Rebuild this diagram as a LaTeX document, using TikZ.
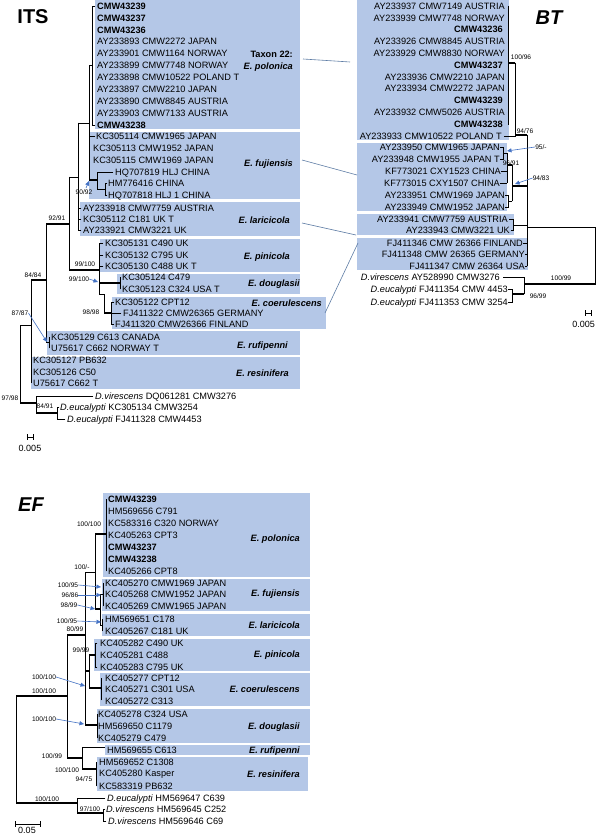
\documentclass[tikz,border=0pt]{standalone}
\usepackage{fontspec}
\setmainfont{Liberation Sans}
\usetikzlibrary{arrows.meta}
\definecolor{boxblue}{RGB}{180,199,231}
\definecolor{arrblue}{RGB}{68,114,196}
\definecolor{linkc}{RGB}{95,125,165}
\tikzset{
 tip/.style={inner sep=0pt, anchor=west, font=\fontsize{9.2}{11}\selectfont, text height=6.6pt, text depth=0pt},
 tipr/.style={tip, anchor=east},
 tb/.style={font=\bfseries\fontsize{9.2}{11}\selectfont},
 taxon/.style={inner sep=0pt, anchor=east, font=\bfseries\itshape\fontsize{9.2}{11}\selectfont, text height=6.6pt, text depth=0pt},
 supp/.style={inner sep=0pt, font=\fontsize{6.6}{8}\selectfont},
 blbox/.style={fill=boxblue, draw=none},
 br/.style={line width=0.7pt, line cap=rect},
 thk/.style={line width=2.8pt},
 arr/.style={draw=arrblue, line width=0.6pt, -{Triangle[length=4.5pt,width=4pt]}},
 link/.style={draw=linkc, line width=0.6pt},
 ttl/.style={inner sep=0pt, font=\bfseries\fontsize{20}{22}\selectfont},
 scl/.style={inner sep=0pt, font=\fontsize{9}{10}\selectfont},
}
\begin{document}
\begin{tikzpicture}[x=1pt,y=-1pt]
\useasboundingbox (0,0) rectangle (596,834);
\fill[white] (0,0) rectangle (596,834);

% ================= ITS =================
\fill[blbox] (95,0) rectangle (300,129);
\fill[blbox] (89,132) rectangle (300,199);
\fill[blbox] (80,202) rectangle (300,236);
\fill[blbox] (100,239) rectangle (300,272);
\fill[blbox] (117,274) rectangle (300,294);
\fill[blbox] (112,297) rectangle (326,329);
\fill[blbox] (47,331) rectangle (300,355);
\fill[blbox] (31,357) rectangle (300,389);

\node[ttl] (itsT) at (33,17) {ITS};

\node[tip,tb] (i1) at (97,6) {CMW43239};
\node[tip,tb] (i2) at (97,17.9) {CMW43237};
\node[tip,tb] (i3) at (97,29.8) {CMW43236};
\node[tip] (i4) at (97,41.7) {AY233893 CMW2272 JAPAN};
\node[tip] (i5) at (97,53.6) {AY233901 CMW1164 NORWAY};
\node[tip] (i6) at (97,65.5) {AY233899 CMW7748 NORWAY};
\node[tip] (i7) at (97,77.4) {AY233898 CMW10522 POLAND T};
\node[tip] (i8) at (97,89.3) {AY233897 CMW2210 JAPAN};
\node[tip] (i9) at (97,101.2) {AY233890 CMW8845 AUSTRIA};
\node[tip] (i10) at (97,113.1) {AY233903 CMW7133 AUSTRIA};
\node[tip,tb] (i11) at (97,125) {CMW43238};
\node[tip] (i12) at (96,136) {KC305114 CMW1965 JAPAN};
\node[tip] (i13) at (93,148) {KC305113 CMW1952 JAPAN};
\node[tip] (i14) at (93,160) {KC305115 CMW1969 JAPAN};
\node[tip] (i15) at (115,172) {HQ707819 HLJ CHINA};
\node[tip] (i16) at (108,183) {HM776416 CHINA};
\node[tip] (i17) at (108,195) {HQ707818 HLJ 1 CHINA};
\node[tip] (i18) at (83,208) {AY233918 CMW7759 AUSTRIA};
\node[tip] (i19) at (83,219) {KC305112 C181 UK T};
\node[tip] (i20) at (83,230) {AY233921 CMW3221 UK};
\node[tip] (i21) at (105,243) {KC305131 C490 UK};
\node[tip] (i22) at (105,255) {KC305132 C795 UK};
\node[tip] (i23) at (105,266) {KC305130 C488 UK T};
\node[tip] (i24) at (122,277) {KC305124 C479};
\node[tip] (i25) at (122,289) {KC305123 C324 USA T};
\node[tip] (i26) at (115,302) {KC305122 CPT12};
\node[tip] (i27) at (123,313) {FJ411322 CMW26365 GERMANY};
\node[tip] (i28) at (115,324) {FJ411320 CMW26366 FINLAND};
\node[tip] (i29) at (51,337) {KC305129 C613 CANADA};
\node[tip] (i30) at (51,348) {U75617 C662 NORWAY T};
\node[tip] (i31) at (33,360) {KC305127 PB632};
\node[tip] (i32) at (33,372) {KC305126 C50};
\node[tip] (i33) at (33,383) {U75617 C662 T};
\node[tip] (i34) at (95,396) {\textit{D.virescens} DQ061281 CMW3276};
\node[tip] (i35) at (60,407) {\textit{D.eucalypti} KC305134 CMW3254};
\node[tip] (i36) at (67,419) {\textit{D.eucalypti} FJ411328 CMW4453};

\node[inner sep=0pt, anchor=east, font=\bfseries\fontsize{9.2}{11}\selectfont, text height=6.6pt, text depth=0pt] (iL0) at (293,54) {Taxon 22:};
\node[taxon] (iL1) at (293,66) {E. polonica};
\node[taxon] (iL2) at (293,163) {E. fujiensis};
\node[taxon] (iL3) at (290,220) {E. laricicola};
\node[taxon] (iL4) at (290,256) {E. pinicola};
\node[taxon] (iL5) at (300,283) {E. douglasii};
\node[taxon] (iL6) at (322,303) {E. coerulescens};
\node[taxon] (iL7) at (288,345) {E. rufipenni};
\node[taxon] (iL8) at (289,373) {E. resinifera};

% ITS tree
\draw[br] (95,6) -- (92,6) -- (92,125) -- (95,125);
\draw[br] (89,65.5) -- (92,65.5);
\draw[br] (89,65.5) -- (89,180);
\draw[br] (89,136) -- (95,136);
\draw[thk] (89,180) -- (97,180);
\draw[br] (113,172) -- (97,172) -- (97,189) -- (105,189);
\draw[br] (107,183) -- (105,183) -- (105,195) -- (107,195);
\draw[br] (78,123) -- (89,123);
\draw[br] (78,123) -- (78,230);
\draw[br] (78,208) -- (81,208);
\draw[br] (78,219) -- (81,219);
\draw[br] (78,230) -- (81,230);
\draw[br] (69,177) -- (78,177);
\draw[br] (69,177) -- (69,270);
\draw[thk] (46,224) -- (69,224);
\draw[thk] (69,270) -- (99,270);
\draw[br] (99,243) -- (99,294) -- (104,294) -- (104,313);
\draw[br] (99,243) -- (103,243);
\draw[br] (99,255) -- (103,255);
\draw[br] (99,266) -- (103,266);
\draw[thk] (99,283) -- (120,283);
\draw[br] (120,277) -- (120,289);
\draw[thk] (104,313) -- (111,313);
\draw[br] (114,302) -- (111,302) -- (111,324) -- (114,324);
\draw[br] (111,313) -- (121,313);
\draw[br] (46,224) -- (46,342.5) -- (49,342.5);
\draw[br] (49,337) -- (49,348);
\draw[thk] (31,280) -- (46,280);
\draw[br] (31,280) -- (31,383);
\draw[br] (20,325) -- (31,325);
\draw[br] (20,325) -- (20,403);
\draw[thk] (20,403) -- (36,403);
\draw[br] (93,396) -- (36,396) -- (36,413);
\draw[thk] (36,413) -- (57,413);
\draw[br] (59,407) -- (57,407) -- (57,419) -- (65,419);

\node[supp] (s1) at (84,192) {90/92};
\draw[arr] (86,188) -- (89,181);
\node[supp] (s2) at (57,218) {92/91};
\node[supp] (s3) at (85,264) {99/100};
\node[supp] (s4) at (79,279) {99/100};
\draw[arr] (s4.east) -- (98,282);
\node[supp] (s5) at (91,312) {98/98};
\node[supp] (s6) at (33,275) {84/84};
\node[supp] (s7) at (20,313) {87/87};
\draw[arr] (s7.east) -- (47,342);
\node[supp] (s8) at (10,398) {97/98};
\node[supp] (s9) at (45,406) {84/91};

\draw[br] (27,437) -- (33,437);
\draw[br] (27,434.5) -- (27,439.5);
\draw[br] (33,434.5) -- (33,439.5);
\node[scl] (itsS) at (30,448) {0.005};

% ================= BT =================
\fill[blbox] (357,0) rectangle (509,140);
\fill[blbox] (357,143) rectangle (507,211);
\fill[blbox] (357,214) rectangle (514,235);
\fill[blbox] (357,238) rectangle (528,270);

\node[ttl,font=\bfseries\itshape\fontsize{20}{22}\selectfont] (btT) at (549,18) {BT};

\node[tipr] (b1) at (505,6) {AY233937 CMW7149 AUSTRIA};
\node[tipr] (b2) at (505,17.8) {AY233939 CMW7748 NORWAY};
\node[tipr,tb] (b3) at (503,29.6) {CMW43236};
\node[tipr] (b4) at (505,41.5) {AY233926 CMW8845 AUSTRIA};
\node[tipr] (b5) at (505,53.3) {AY233929 CMW8830 NORWAY};
\node[tipr,tb] (b6) at (503,65.1) {CMW43237};
\node[tipr] (b7) at (505,76.9) {AY233936 CMW2210 JAPAN};
\node[tipr] (b8) at (505,88.7) {AY233934 CMW2272 JAPAN};
\node[tipr,tb] (b9) at (503,100.5) {CMW43239};
\node[tipr] (b10) at (505,112.4) {AY233932 CMW5026 AUSTRIA};
\node[tipr,tb] (b11) at (503,124.2) {CMW43238};
\node[tipr] (b12) at (502,136) {AY233933 CMW10522 POLAND T};
\node[tipr] (b13) at (500,147) {AY233950 CMW1965 JAPAN};
\node[tipr] (b14) at (500,159) {AY233948 CMW1955 JAPAN T};
\node[tipr] (b15) at (501,171.5) {KF773021 CXY1523 CHINA};
\node[tipr] (b16) at (500,183) {KF773015 CXY1507 CHINA};
\node[tipr] (b17) at (505,195) {AY233951 CMW1969 JAPAN};
\node[tipr] (b18) at (505,207) {AY233949 CMW1952 JAPAN};
\node[tipr] (b19) at (508,219) {AY233941 CMW7759 AUSTRIA};
\node[tipr] (b20) at (510,230) {AY233943 CMW3221 UK};
\node[tipr] (b21) at (523,243) {FJ411346 CMW 26366 FINLAND};
\node[tipr] (b22) at (525,254.5) {FJ411348 CMW 26365 GERMANY};
\node[tipr] (b23) at (525,266) {FJ411347 CMW 26364 USA};
\node[tipr] (b24) at (500,277) {\textit{D.virescens} AY528990 CMW3276};
\node[tipr] (b25) at (508,289) {\textit{D.eucalypti} FJ411354 CMW 4453};
\node[tipr] (b26) at (508,302) {\textit{D.eucalypti} FJ411353 CMW 3254};

% BT tree
\draw[br] (508,6) -- (508,124.2);
\draw[thk] (508,63) -- (515,63);
\draw[br] (515,63) -- (515,136) -- (504,136);
\draw[thk] (515,135) -- (527,135);
\draw[br] (527,135) -- (527,266);
\draw[br] (500,147) -- (503,147) -- (503,159) -- (500,159);
\draw[br] (503,153) -- (507,153);
\draw[br] (507,153) -- (507,183);
\draw[br] (501,171.5) -- (507,171.5);
\draw[br] (500,183) -- (507,183);
\draw[thk] (507,165) -- (512,165);
\draw[br] (512,165) -- (512,201);
\draw[br] (505,195) -- (508,195) -- (508,207) -- (505,207);
\draw[br] (508,201) -- (512,201);
\draw[thk] (512,186) -- (527,186);
\draw[br] (509,219) -- (513,219) -- (513,230) -- (511,230);
\draw[br] (513,225) -- (527,225);
\draw[br] (523,243) -- (527,243);
\draw[br] (525,254.5) -- (527,254.5);
\draw[br] (525,266) -- (527,266);
\draw[br] (527,227) -- (595,227) -- (595,284);
\draw[thk] (524,284) -- (595.5,284);
\draw[br] (503,277) -- (524,277) -- (524,294);
\draw[thk] (512,294) -- (524,294);
\draw[br] (508,289) -- (512,289) -- (512,302) -- (508,302);

\node[supp] (t1) at (521,57) {100/96};
\node[supp] (t2) at (525,131) {94/76};
\node[supp] (t3) at (541,147) {95/-};
\draw[arr] (t3.west) -- (507,151);
\node[supp] (t4) at (511,163) {96/91};
\node[supp] (t5) at (541,178) {94/83};
\draw[arr] (t5.west) -- (515,184);
\node[supp] (t6) at (561,278) {100/99};
\node[supp] (t7) at (538,296) {96/99};

\draw[br] (585,313) -- (591,313);
\draw[br] (585,310.5) -- (585,315.5);
\draw[br] (591,310.5) -- (591,315.5);
\node[scl, anchor=east] (btS) at (595,324) {0.005};

% links ITS <-> BT
\coordinate (la1) at (303,59);  \coordinate (la2) at (350,62);
\coordinate (lb1) at (302,160); \coordinate (lb2) at (357,175);
\coordinate (lc1) at (302,223); \coordinate (lc2) at (356,235);
\coordinate (ld1) at (325,313); \coordinate (ld2) at (358,243);
\draw[link] (la1) -- (la2);
\draw[link] (lb1) -- (lb2);
\draw[link] (lc1) -- (lc2);
\draw[link] (ld1) -- (ld2);

% ================= EF =================
\fill[blbox] (103,493) rectangle (310,577);
\fill[blbox] (102,578.5) rectangle (310,611);
\fill[blbox] (102,614) rectangle (310,636);
\fill[blbox] (94,639) rectangle (310,671);
\fill[blbox] (100,673) rectangle (310,706);
\fill[blbox] (97,709) rectangle (310,743);
\fill[blbox] (105,745) rectangle (310,755);
\fill[blbox] (97,757) rectangle (308,791);

\node[ttl,font=\bfseries\itshape\fontsize{20}{22}\selectfont] (efT) at (31,505) {EF};

\node[tip,tb] (e1) at (108,499) {CMW43239};
\node[tip] (e2) at (108,511) {HM569656 C791};
\node[tip] (e3) at (108,523) {KC583316 C320 NORWAY};
\node[tip] (e4) at (108,535) {KC405263 CPT3};
\node[tip,tb] (e5) at (108,547) {CMW43237};
\node[tip,tb] (e6) at (108,559) {CMW43238};
\node[tip] (e7) at (108,571) {KC405266 CPT8};
\node[tip] (e8) at (105,583) {KC405270 CMW1969 JAPAN};
\node[tip] (e9) at (105,594.5) {KC405268 CMW1952 JAPAN};
\node[tip] (e10) at (105,606) {KC405269 CMW1965 JAPAN};
\node[tip] (e11) at (105,619) {HM569651 C178};
\node[tip] (e12) at (105,631) {KC405267 C181 UK};
\node[tip] (e13) at (100,643) {KC405282 C490 UK};
\node[tip] (e14) at (100,655) {KC405281 C488};
\node[tip] (e15) at (100,667) {KC405283 C795 UK};
\node[tip] (e16) at (105,678) {KC405277 CPT12};
\node[tip] (e17) at (105,689.5) {KC405271 C301 USA};
\node[tip] (e18) at (105,701) {KC405272 C313};
\node[tip] (e19) at (98,714) {KC405278 C324 USA};
\node[tip] (e20) at (98,726) {HM569650 C1179};
\node[tip] (e21) at (98,738) {KC405279 C479};
\node[tip] (e22) at (107,750) {HM569655 C613};
\node[tip] (e23) at (99,762) {HM569652 C1308};
\node[tip] (e24) at (99,773.5) {KC405280 Kasper};
\node[tip] (e25) at (99,786) {KC583319 PB632};
\node[tip] (e26) at (107,798) {\textit{D.eucalypti} HM569647 C639};
\node[tip] (e27) at (106,809.5) {\textit{D.virescens} HM569645 C252};
\node[tip] (e28) at (108,821) {\textit{D.virescens} HM569646 C69};

\node[taxon] (eL1) at (300,538) {E. polonica};
\node[taxon] (eL2) at (300,593) {E. fujiensis};
\node[taxon] (eL3) at (300,625) {E. laricicola};
\node[taxon] (eL4) at (300,654) {E. pinicola};
\node[taxon] (eL5) at (300,689) {E. coerulescens};
\node[taxon] (eL6) at (300,726) {E. douglasii};
\node[taxon] (eL7) at (300,750) {E. rufipenni};
\node[taxon] (eL8) at (300,774) {E. resinifera};

% EF tree
\draw[br] (106,499) -- (106,571);
\draw[thk] (95,534) -- (106,534);
\draw[br] (95,534) -- (95,609);
\draw[br] (85,572) -- (95,572);
\draw[thk] (95,609) -- (100,609);
\draw[br] (100,594) -- (100,625);
\draw[br] (100,594) -- (103,594);
\draw[br] (103,583) -- (103,606);
\draw[br] (100,625) -- (102,625);
\draw[br] (102,619) -- (102,631);
\draw[br] (85,572) -- (85,725);
\draw[thk] (67,635) -- (85,635);
\draw[br] (97,643) -- (95,643) -- (95,667) -- (97,667);
\draw[thk] (89,655) -- (95,655);
\draw[br] (89,655) -- (89,688);
\draw[thk] (86,671) -- (89,671);
\draw[thk] (89,688) -- (101,688);
\draw[br] (101,678) -- (101,700);
\draw[thk] (85,725) -- (97,725);
\draw[br] (97,714) -- (97,738);
\draw[br] (105,747) -- (82,747) -- (82,769);
\draw[thk] (82,769) -- (96,769);
\draw[br] (96,762) -- (96,786);
\draw[thk] (67,758) -- (82,758);
\draw[br] (67,635) -- (67,758);
\draw[thk] (16,696) -- (67,696);
\draw[br] (16,696) -- (16,803);
\draw[thk] (16,803) -- (77,803);
\draw[br] (105,798) -- (77,798) -- (77,813);
\draw[thk] (77,813) -- (103,813);
\draw[br] (105,809.5) -- (103,809.5) -- (103,821) -- (106,821);

\node[supp] (u1) at (89,524) {100/100};
\node[supp] (u2) at (82,567) {100/-};
\node[supp] (u3) at (68,585) {100/95};
\draw[arr] (u3.east) -- (101,587);
\node[supp] (u4) at (70,595) {96/86};
\draw[arr] (u4.east) -- (101,595);
\node[supp] (u5) at (69,605) {98/99};
\draw[arr] (u5.east) -- (95,609);
\node[supp] (u6) at (67,621) {100/95};
\draw[arr] (u6.east) -- (101,622);
\node[supp] (u7) at (75,629) {80/99};
\node[supp] (u8) at (81,650) {99/99};
\node[supp] (u9) at (44,677) {100/100};
\draw[arr] (u9.east) -- (85,686);
\node[supp] (u10) at (44,691) {100/100};
\node[supp] (u11) at (44,719) {100/100};
\draw[arr] (u11.east) -- (84,724);
\node[supp] (u12) at (52,756) {100/99};
\node[supp] (u13) at (67,770) {100/100};
\node[supp] (u14) at (84,779) {94/75};
\node[supp] (u15) at (47,799) {100/100};
\node[supp] (u16) at (90,809) {97/100};

\draw[br] (15,824) -- (40,824);
\draw[br] (15,821.5) -- (15,826.5);
\draw[br] (40,821.5) -- (40,826.5);
\node[scl] (efS) at (27,830.5) {0.05};
\end{tikzpicture}
\end{document}
